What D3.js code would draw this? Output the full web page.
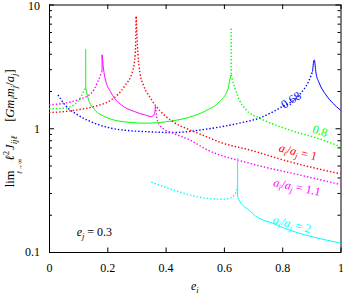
<!DOCTYPE html>
<html>
<head>
<meta charset="utf-8">
<script src="https://cdn.jsdelivr.net/npm/d3@7"></script>
<style>
  body { margin: 0; background: #fff; }
  svg { display: block; font-family: "Liberation Serif", "DejaVu Serif", serif; }
</style>
</head>
<body>
<div id="chart"></div>
<script>
// tick values
const xTicks = [0, 0.2, 0.4, 0.6, 0.8, 1];
const yTicks = [0.1, 1, 10];
const yMinor = [0.2, 0.3, 0.4, 0.5, 0.6, 0.7, 0.8, 0.9, 2, 3, 4, 5, 6, 7, 8, 9];

// a_i/a_j = 0.68 (blue)
const blueDotted = [[0.031, 1.86], [0.054, 1.55], [0.099, 1.28], [0.156, 1.10], [0.214, 1.0],
  [0.271, 0.958], [0.328, 0.94], [0.425, 0.923], [0.539, 0.983], [0.653, 1.10], [0.722, 1.21],
  [0.790, 1.45], [0.859, 1.86], [0.893, 2.46], [0.904, 2.87]];
const blueSolid = [[0.904, 2.87], [0.910, 3.57], [0.916, 2.79], [0.927, 2.32], [0.950, 1.86],
  [0.973, 1.60], [1.0, 1.40]];

// a_i/a_j = 0.8 (green)
const greenDotLeft = [[0, 1.435], [0.054, 1.454], [0.099, 1.644], [0.122, 2.045], [0.126, 2.12]];
const greenSpike1 = [[0.126, 4.36], [0.126, 2.12]];
const greenSolid = [[0.126, 2.12], [0.134, 1.75], [0.157, 1.41], [0.191, 1.243], [0.236, 1.148],
  [0.328, 1.099], [0.424, 1.148], [0.482, 1.229], [0.539, 1.39], [0.585, 1.644], [0.613, 2.045],
  [0.621, 2.50], [0.625, 2.70]];
const greenSpike2 = [[0.625, 6.4], [0.625, 2.70]];
const greenDotRight = [[0.625, 2.70], [0.636, 2.17], [0.653, 1.70], [0.676, 1.41], [0.722, 1.21],
  [0.824, 0.971], [0.938, 0.806], [1.0, 0.71]];

// a_i/a_j = 1 (red)
const redLeft = [[0, 1.34], [0.054, 1.365], [0.099, 1.41], [0.156, 1.50], [0.214, 1.70],
  [0.259, 2.18], [0.288, 2.97], [0.296, 4.05], [0.299, 8.0]];
const redRight = [[0.299, 8.0], [0.305, 4.0], [0.312, 2.8], [0.325, 2.2], [0.345, 1.8],
  [0.368, 1.50], [0.425, 1.13], [0.482, 0.971], [0.539, 0.857], [0.596, 0.758], [0.687, 0.669],
  [0.823, 0.538], [1.0, 0.428]];

// a_i/a_j = 1.1 (magenta)
const magDotLeft = [[0, 1.546], [0.054, 1.596], [0.099, 1.697], [0.145, 1.92], [0.168, 2.39], [0.181, 2.87]];
const magSpike = [[0.182, 3.92], [0.182, 2.87]];
const magSolid = [[0.182, 3.92], [0.191, 2.62], [0.214, 1.92], [0.248, 1.546], [0.293, 1.365],
  [0.328, 1.283], [0.351, 1.243], [0.362, 1.308], [0.365, 1.50]];
const magDotRight = [[0.365, 1.50], [0.373, 1.13], [0.390, 1.0], [0.425, 0.913], [0.482, 0.806],
  [0.543, 0.669], [0.687, 0.522], [0.858, 0.42], [1.0, 0.351]];

// a_i/a_j = 2 (cyan)
const cyanDotted = [[0.351, 0.367], [0.425, 0.318], [0.482, 0.289], [0.539, 0.272], [0.596, 0.267],
  [0.619, 0.272], [0.636, 0.289], [0.644, 0.318], [0.647, 0.34]];
const cyanSpike = [[0.647, 0.576], [0.647, 0.28]];
const cyanSolid = [[0.647, 0.28], [0.655, 0.255], [0.665, 0.238], [0.687, 0.217], [0.709, 0.195],
  [0.766, 0.171], [0.823, 0.151], [0.880, 0.137], [0.937, 0.127], [1.0, 0.118]];

const W = 343, H = 295;

const svg = d3.select('#chart').append('svg')
  .attr('width', W)
  .attr('height', H);

const x = d3.scaleLinear().domain([0, 1]).range([49, 340.5]);
const y = d3.scaleLog().domain([0.1, 10]).range([252, 4.5]);

// ticks (inward), all four sides
svg.append('g')
  .attr('transform', `translate(0, ${y(0.1)})`)
  .call(d3.axisBottom(x).tickValues(xTicks).tickSizeInner(-4.5).tickSizeOuter(0).tickPadding(11)
    .tickFormat(d3.format('')));
svg.append('g')
  .attr('transform', `translate(0, ${y(10)})`)
  .call(d3.axisTop(x).tickValues(xTicks).tickSizeInner(-4.5).tickSizeOuter(0).tickFormat(''));
svg.append('g')
  .attr('class', 'yaxis')
  .attr('transform', `translate(${x(0)}, 0)`)
  .call(d3.axisLeft(y).tickValues(yTicks).tickSizeInner(-5).tickSizeOuter(0).tickPadding(9)
    .tickFormat(d3.format('')));
svg.append('g')
  .attr('transform', `translate(${x(0)}, 0)`)
  .call(d3.axisLeft(y).tickValues(yMinor).tickSizeInner(-3).tickSizeOuter(0).tickFormat(''));
svg.append('g')
  .attr('transform', `translate(${x(1)}, 0)`)
  .call(d3.axisRight(y).tickValues(yTicks).tickSizeInner(-5).tickSizeOuter(0).tickFormat(''));
svg.append('g')
  .attr('transform', `translate(${x(1)}, 0)`)
  .call(d3.axisRight(y).tickValues(yMinor).tickSizeInner(-3).tickSizeOuter(0).tickFormat(''));

svg.selectAll('.domain').remove();
svg.selectAll('.tick text')
  .attr('font-family', '"Liberation Serif", serif')
  .attr('font-size', 12)
  .attr('fill', '#000');
// keep the top label inside the picture
svg.selectAll('.yaxis .tick text').filter(d => d === 10).attr('dy', '0.45em');

// frame
svg.append('rect')
  .attr('x', x(0) + 0.5)
  .attr('y', y(10) + 0.5)
  .attr('width', x(1) - x(0))
  .attr('height', y(0.1) - y(10))
  .attr('fill', 'none')
  .attr('stroke', '#000')
  .attr('stroke-width', 1);

// curves
const segments = [
  { pts: blueDotted, color: '#0000ff', dotted: true },
  { pts: blueSolid, color: '#0000ff', dotted: false },
  { pts: greenDotLeft, color: '#00ff00', dotted: true },
  { pts: greenSpike1, color: '#00ff00', dotted: false },
  { pts: greenSolid, color: '#00ff00', dotted: false },
  { pts: greenSpike2, color: '#00ff00', dotted: true },
  { pts: greenDotRight, color: '#00ff00', dotted: true },
  { pts: redLeft, color: '#ff0000', dotted: true },
  { pts: redRight, color: '#ff0000', dotted: true },
  { pts: magDotLeft, color: '#ff00ff', dotted: true },
  { pts: magSpike, color: '#ff00ff', dotted: false },
  { pts: magSolid, color: '#ff00ff', dotted: false },
  { pts: magDotRight, color: '#ff00ff', dotted: true },
  { pts: cyanDotted, color: '#00ffff', dotted: true },
  { pts: cyanSpike, color: '#00ffff', dotted: false },
  { pts: cyanSolid, color: '#00ffff', dotted: false }
];

const smooth = d3.line().x(d => x(d[0])).y(d => y(d[1])).curve(d3.curveMonotoneX);
const straight = d3.line().x(d => x(d[0])).y(d => y(d[1]));

svg.append('g').selectAll('path')
  .data(segments)
  .join('path')
  .attr('fill', 'none')
  .attr('stroke', d => d.color)
  .attr('stroke-width', d => d.dotted ? 1.4 : 1)
  .attr('stroke-dasharray', d => d.dotted ? '1.4,2' : null)
  .attr('d', d => d.pts.length === 2 && d.pts[0][0] === d.pts[1][0] ? straight(d.pts) : smooth(d.pts));

// math-ish text helper: parts are [text, kind, dx], kind 'n' normal, 'i' italic, 's' subscript, 'u' superscript
function mathText(g, parts, size) {
  const t = g.append('text').attr('font-size', size);
  let shift = 0;
  parts.forEach(([txt, kind, dx]) => {
    const ts = t.append('tspan').text(txt);
    let want = 0;
    if (kind === 'i' || kind === 's') ts.attr('font-style', 'italic');
    if (kind === 's') want = 3;
    if (kind === 'u') want = -5;
    if (kind === 's' || kind === 'u') ts.attr('font-size', size * 0.7);
    if (want !== shift) ts.attr('dy', want - shift);
    if (dx) ts.attr('dx', dx);
    shift = want;
  });
  return t;
}

const ratioParts = v => [['a', 'i'], ['i', 's'], ['/', 'n'], ['a', 'i'], ['j', 's'], [' = ' + v, 'n']];

const labels = [
  { parts: [['0.68', 'n']], e: 0.830, v: 1.69, rot: -33, color: '#0000ff' },
  { parts: [['0.8', 'n']], e: 0.930, v: 0.95, rot: 18, color: '#00ff00' },
  { parts: ratioParts('1'), e: 0.854, v: 0.643, rot: 14, color: '#ff0000' },
  { parts: ratioParts('1.1'), e: 0.851, v: 0.335, rot: 12, color: '#ff00ff' },
  { parts: ratioParts('2'), e: 0.834, v: 0.168, rot: 15, color: '#00ffff' }
];

labels.forEach(l => {
  const g = svg.append('g')
    .attr('transform', `translate(${x(l.e)}, ${y(l.v)}) rotate(${l.rot})`);
  mathText(g, l.parts, 12)
    .attr('text-anchor', 'middle')
    .attr('y', 4)
    .attr('fill', l.color);
});

// e_j = 0.3
mathText(svg.append('g').attr('transform', `translate(${x(0.095)}, ${y(0.135)})`),
  [['e', 'i'], ['j', 's'], [' = 0.3', 'n']], 12);

// x label
mathText(svg.append('g').attr('transform', `translate(${(x(0) + x(1)) / 2}, 290)`),
  [['e', 'i'], ['i', 's']], 12).attr('text-anchor', 'middle');

// y label: one rotated text, centred on the plot; limit subscript placed under "lim"
const yMid = (y(0.1) + y(10)) / 2;
const yl = svg.append('g').attr('transform', `translate(14, ${yMid}) rotate(-90)`);
const ylText = mathText(yl, [
  ['lim', 'n'],
  ['\u2113', 'i', 10], ['2', 'u'], ['J', 'i', 1], ['ij\u2113', 's'],
  ['[', 'n', 14], ['Gm', 'i'], ['i', 's'], ['m', 'i'], ['j', 's'], ['/', 'n'], ['a', 'i'], ['j', 's'], [']', 'n']
], 12.5).attr('text-anchor', 'middle');
const total = ylText.node().getComputedTextLength();
const limW = ylText.node().getSubStringLength(0, 3);
yl.append('text')
  .attr('x', -total / 2 + limW / 2)
  .attr('y', 8)
  .attr('font-size', 7)
  .attr('font-style', 'italic')
  .attr('text-anchor', 'middle')
  .text('\u2113\u2192\u221e');
</script>
</body>
</html>
